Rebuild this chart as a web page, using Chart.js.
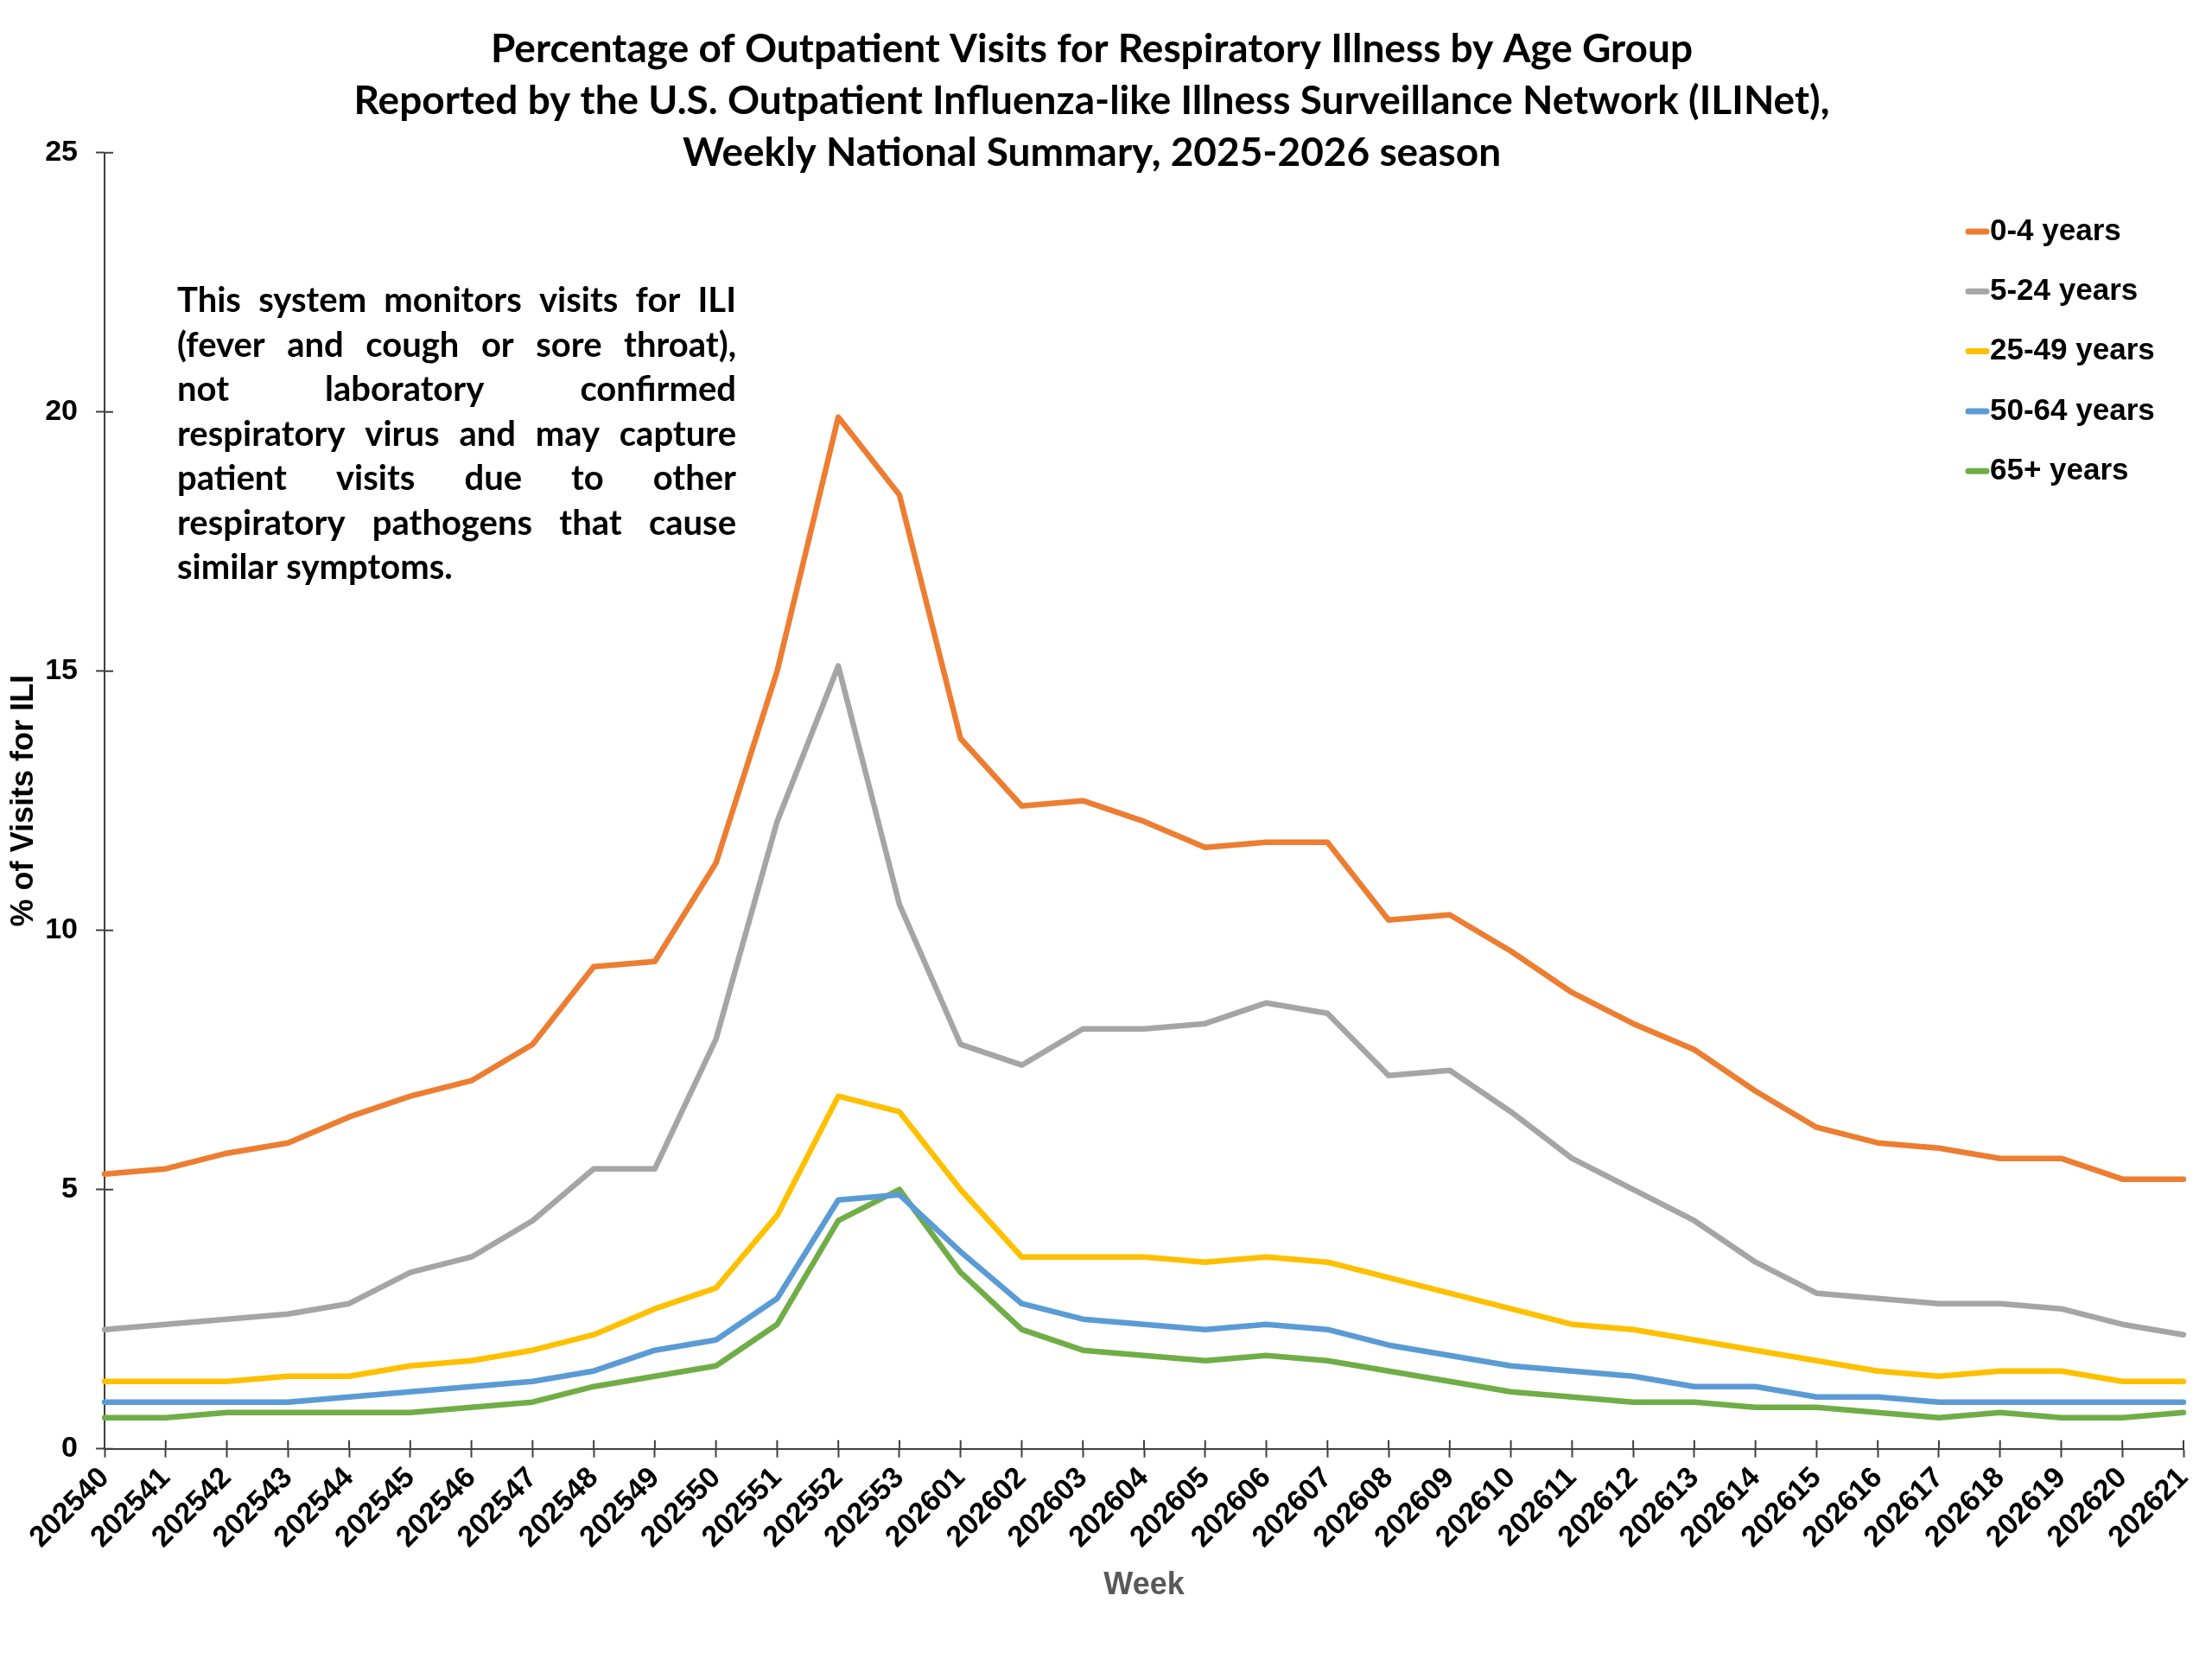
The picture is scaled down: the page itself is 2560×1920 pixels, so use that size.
<!DOCTYPE html>
<html>
<head>
<meta charset="utf-8">
<script src="https://cdn.jsdelivr.net/npm/chart.js@4.4.1/dist/chart.umd.min.js"></script>
<style>
html,body{margin:0;padding:0;background:#ffffff;}
#wrap{width:2560px;height:1920px;position:relative;}
</style>
</head>
<body>
<div id="wrap"><canvas id="c"></canvas></div>
<script>
// ---- Data ----
const weeks = ['202540','202541','202542','202543','202544','202545','202546','202547','202548','202549',
  '202550','202551','202552','202553','202601','202602','202603','202604','202605','202606','202607',
  '202608','202609','202610','202611','202612','202613','202614','202615','202616','202617','202618',
  '202619','202620','202621'];
const age0to4   = [5.3,5.4,5.7,5.9,6.4,6.8,7.1,7.8,9.3,9.4,11.3,15.0,19.9,18.4,13.7,12.4,12.5,12.1,11.6,11.7,11.7,10.2,10.3,9.6,8.8,8.2,7.7,6.9,6.2,5.9,5.8,5.6,5.6,5.2,5.2];
const age5to24  = [2.3,2.4,2.5,2.6,2.8,3.4,3.7,4.4,5.4,5.4,7.9,12.1,15.1,10.5,7.8,7.4,8.1,8.1,8.2,8.6,8.4,7.2,7.3,6.5,5.6,5.0,4.4,3.6,3.0,2.9,2.8,2.8,2.7,2.4,2.2];
const age25to49 = [1.3,1.3,1.3,1.4,1.4,1.6,1.7,1.9,2.2,2.7,3.1,4.5,6.8,6.5,5.0,3.7,3.7,3.7,3.6,3.7,3.6,3.3,3.0,2.7,2.4,2.3,2.1,1.9,1.7,1.5,1.4,1.5,1.5,1.3,1.3];
const age50to64 = [0.9,0.9,0.9,0.9,1.0,1.1,1.2,1.3,1.5,1.9,2.1,2.9,4.8,4.9,3.8,2.8,2.5,2.4,2.3,2.4,2.3,2.0,1.8,1.6,1.5,1.4,1.2,1.2,1.0,1.0,0.9,0.9,0.9,0.9,0.9];
const age65plus = [0.6,0.6,0.7,0.7,0.7,0.7,0.8,0.9,1.2,1.4,1.6,2.4,4.4,5.0,3.4,2.3,1.9,1.8,1.7,1.8,1.7,1.5,1.3,1.1,1.0,0.9,0.9,0.8,0.8,0.7,0.6,0.7,0.6,0.6,0.7];
const seriesLabels = ['0-4 years','5-24 years','25-49 years','50-64 years','65+ years'];
const yTicks = [0,5,10,15,20,25];
const titleLines = [
  'Percentage of Outpatient Visits for Respiratory Illness by Age Group',
  'Reported by the U.S. Outpatient Influenza-like Illness Surveillance Network (ILINet),',
  'Weekly National Summary, 2025-2026 season'
];
const noteLines = [
  'This system monitors visits for ILI',
  '(fever and cough or sore throat),',
  'not laboratory confirmed',
  'respiratory virus and may capture',
  'patient visits due to other',
  'respiratory pathogens that cause',
  'similar symptoms.'
];
const xTitle = 'Week';
const yTitle = '% of Visits for ILI';

// ---- Styles ----
const colors = ['#ED7D31','#A5A5A5','#FFC000','#5B9BD5','#70AD47'];
const ARIAL = "'Liberation Sans', Arial, sans-serif";
const CAL = "Lato, 'Open Sans', sans-serif";
const axisColor = '#404040';

const seriesValues = [age0to4, age5to24, age25to49, age50to64, age65plus];

const innerTicks = {
  id: 'innerTicks',
  beforeDatasetsDraw(chart) {
    const {ctx, chartArea: a, scales: {x, y}} = chart;
    ctx.save();
    ctx.strokeStyle = axisColor;
    ctx.lineWidth = 2;
    ctx.beginPath();
    x.ticks.forEach((t, i) => { const px = x.getPixelForTick(i); ctx.moveTo(px, a.bottom); ctx.lineTo(px, a.bottom - 10); });
    y.ticks.forEach((t, i) => { const py = y.getPixelForTick(i); ctx.moveTo(a.left, py); ctx.lineTo(a.left + 10, py); });
    ctx.stroke();
    ctx.restore();
  }
};

const customLegend = {
  id: 'customLegend',
  afterDraw(chart) {
    const ctx = chart.ctx;
    ctx.save();
    ctx.font = 'bold 35px ' + ARIAL;
    ctx.textBaseline = 'middle';
    ctx.textAlign = 'left';
    chart.data.datasets.forEach((ds, i) => {
      const cy = 268 + i * 69.3;
      ctx.strokeStyle = ds.borderColor;
      ctx.lineWidth = 7;
      ctx.lineCap = 'round';
      ctx.beginPath();
      ctx.moveTo(2278, cy);
      ctx.lineTo(2299, cy);
      ctx.stroke();
      ctx.fillStyle = '#000';
      ctx.fillText(ds.label, 2303, cy);
    });
    ctx.restore();
  }
};

const note = {
  id: 'note',
  afterDraw(chart) {
    const ctx = chart.ctx;
    const x0 = 205, x1 = 852;
    ctx.save();
    ctx.font = 'bold 40px ' + CAL;
    ctx.fillStyle = '#000';
    ctx.textBaseline = 'alphabetic';
    ctx.textAlign = 'left';
    noteLines.forEach((line, li) => {
      const y = 361 + li * 51.5;
      const words = line.split(' ');
      const last = li === noteLines.length - 1;
      if (last || words.length === 1) { ctx.fillText(line, x0, y); return; }
      const widths = words.map(w => ctx.measureText(w).width);
      const total = widths.reduce((s, v) => s + v, 0);
      const minGap = 6;
      let k = 1;
      if (total + minGap * (words.length - 1) > x1 - x0) {
        k = (x1 - x0) / (total + minGap * (words.length - 1));
      }
      const gap = ((x1 - x0) / k - total) / (words.length - 1);
      ctx.save();
      ctx.translate(x0, y);
      ctx.scale(k, 1);
      let x = 0;
      words.forEach((w, i) => { ctx.fillText(w, x, 0); x += widths[i] + gap; });
      ctx.restore();
    });
    ctx.restore();
  }
};

const datasets = seriesValues.map((vals, i) => ({
  label: seriesLabels[i],
  data: vals,
  borderColor: colors[i],
  backgroundColor: colors[i],
  borderWidth: 6.5,
  pointRadius: 0,
  pointHoverRadius: 0,
  tension: 0,
  fill: false,
  borderJoinStyle: 'round',
  borderCapStyle: 'round'
}));

new Chart(document.getElementById('c'), {
  type: 'line',
  data: { labels: weeks, datasets: datasets },
  options: {
    responsive: true,
    maintainAspectRatio: false,
    devicePixelRatio: 1,
    animation: false,
    layout: { padding: { left: 0, right: 33, top: 0, bottom: 0 } },
    plugins: {
      legend: { display: false },
      tooltip: { enabled: false },
      title: {
        display: true,
        text: titleLines,
        color: '#000',
        font: { family: CAL, weight: 'bold', size: 46, lineHeight: '60px' },
        padding: { top: 27.2, bottom: -30.5 }
      }
    },
    scales: {
      x: {
        type: 'category',
        grid: { display: true, drawOnChartArea: false, drawTicks: true, tickLength: 10, tickColor: axisColor, tickWidth: 2 },
        border: { display: true, color: axisColor, width: 2 },
        ticks: { autoSkip: false, maxRotation: 45, minRotation: 45, color: '#000', padding: 4,
                 font: { family: ARIAL, weight: 'bold', size: 34 } },
        title: { display: true, text: xTitle, color: '#595959', font: { family: ARIAL, weight: 'bold', size: 36 },
                 padding: { top: 0, bottom: 63.4 } },
        afterFit(s) { s.height = 243.3; }
      },
      y: {
        min: 0, max: 25,
        afterBuildTicks(s) { s.ticks = yTicks.map(v => ({ value: v })); },
        grid: { display: true, drawOnChartArea: false, drawTicks: true, tickLength: 10, tickColor: axisColor, tickWidth: 2 },
        border: { display: true, color: axisColor, width: 2 },
        ticks: { color: '#000', padding: 21, font: { family: ARIAL, weight: 'bold', size: 34 } },
        title: { display: true, text: yTitle, color: '#000', font: { family: ARIAL, weight: 'bold', size: 36 },
                 padding: { top: 6.4, bottom: 0 } },
        afterFit(s) { s.width = 121; }
      }
    }
  },
  plugins: [innerTicks, customLegend, note]
});
</script>
</body>
</html>
